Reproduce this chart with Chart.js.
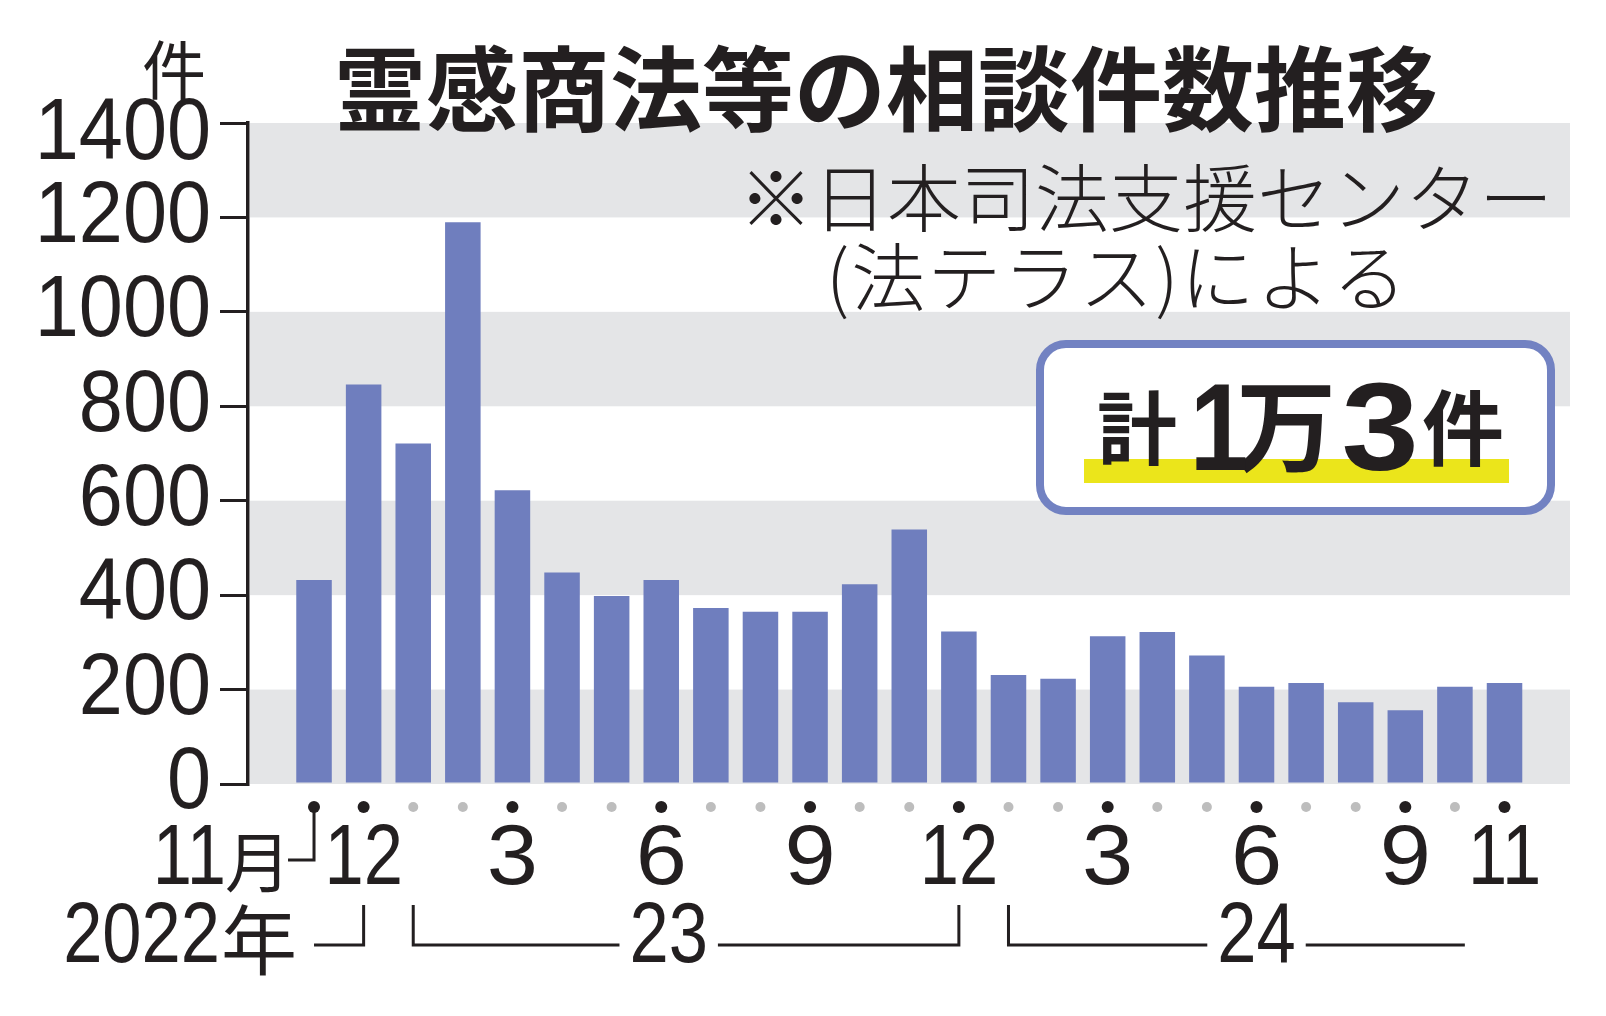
<!DOCTYPE html>
<html>
<head>
<meta charset="utf-8">
<title>霊感商法等の相談件数推移</title>
<script src="https://cdn.jsdelivr.net/npm/chart.js@4.4.0/dist/chart.umd.min.js"></script>
<style>
html, body { margin:0; padding:0; background:#fff; }
</style>
</head>
<body>
<canvas id="bar-chart" width="1606" height="1016"></canvas>
<script>
// 2022年11月 - 2024年11月, monthly counts (日本司法支援センター)
var months = [11,12,1,2,3,4,5,6,7,8,9,10,11,12,1,2,3,4,5,6,7,8,9,10,11];
var counts = [432,846,721,1190,622,448,398,432,373,365,365,423,539,323,231,223,313,322,272,206,214,173,156,206,214];
var shownMonths = [0,1,4,7,10,13,16,19,22,24];   // months that get a label and a black dot
var yTicks = [0,200,400,600,800,1000,1200,1400];
var firstYear = '2022';
var years = [
  {label:'23', from:2, to:13, at:7.15, closed:true},
  {label:'24', from:14, to:23.2, at:19, closed:false}
];

var ink = '#231f20';
var barColor = '#6f7ebe';
var latin = '"Liberation Sans", Arial, sans-serif';
var cjk = '"Noto Sans CJK JP", sans-serif';

// no narrow face installed, so squeeze Liberation Sans sideways
function narrowText(ctx, text, px, py, align, sx) {
  ctx.save();
  ctx.translate(px, py);
  ctx.scale(sx || 0.82, 1);
  ctx.textAlign = align;
  ctx.fillText(text, 0, 0);
  ctx.restore();
}

var bands = {
  id: 'bands',
  beforeDatasetsDraw: function(chart) {
    var ctx = chart.ctx, a = chart.chartArea, y = chart.scales.y;
    ctx.save();
    ctx.fillStyle = '#e4e5e7';
    for (var k = 0; k < yTicks.length - 1; k += 2) {
      var t = y.getPixelForValue(yTicks[k + 1]), b = y.getPixelForValue(yTicks[k]);
      ctx.fillRect(a.left + 2, t, a.right - a.left - 2, b - t);
    }
    ctx.restore();
  }
};

var extras = {
  id: 'extras',
  afterDraw: function(chart) {
    var ctx = chart.ctx, x = chart.scales.x, y = chart.scales.y;
    ctx.save();
    ctx.fillStyle = ink;
    ctx.strokeStyle = ink;
    ctx.lineWidth = 3;
    ctx.textBaseline = 'middle';

    // y tick labels
    ctx.font = '88px ' + latin;
    yTicks.forEach(function(v, k) {
      var py = y.getPixelForValue(v) + (k === yTicks.length - 1 ? 12 : 0);
      narrowText(ctx, String(v), chart.chartArea.left - 37, py, 'right', 0.9);
    });

    // month dots
    months.forEach(function(m, i) {
      var on = shownMonths.indexOf(i) >= 0;
      ctx.beginPath();
      ctx.arc(x.getPixelForValue(i), 807, on ? 6 : 5, 0, Math.PI * 2);
      ctx.fillStyle = on ? ink : '#bdbdbd';
      ctx.fill();
    });
    ctx.fillStyle = ink;

    // month labels
    ctx.font = '86px ' + latin;
    shownMonths.forEach(function(i) {
      if (i === 0) return;
      var s = String(months[i]);
      narrowText(ctx, s, x.getPixelForValue(i), 860, 'center', s.length > 1 ? 0.82 : 1.07);
    });

    // 11月 with its hook
    var x0 = x.getPixelForValue(0);
    narrowText(ctx, String(months[0]), x0 - 88, 860, 'right');
    ctx.font = '66px ' + cjk;
    ctx.textAlign = 'center';
    ctx.fillText('月', x0 - 56, 862);
    ctx.beginPath();
    ctx.moveTo(x0, 807); ctx.lineTo(x0, 860); ctx.lineTo(x0 - 26, 860);
    ctx.stroke();

    // year row
    var ly = 945, ty = 905;
    ctx.font = '86px ' + latin;
    narrowText(ctx, firstYear, x0 - 94, 938, 'right');
    ctx.font = '76px ' + cjk;
    ctx.textAlign = 'center';
    ctx.fillText('年', x0 - 55, 940);
    var x1 = x.getPixelForValue(1);
    ctx.beginPath();
    ctx.moveTo(x0, ly); ctx.lineTo(x1, ly); ctx.lineTo(x1, ty);
    ctx.stroke();

    ctx.font = '86px ' + latin;
    years.forEach(function(yr) {
      var xa = x.getPixelForValue(yr.from), xb = x.getPixelForValue(yr.to);
      var xc = x.getPixelForValue(yr.at), w = ctx.measureText(yr.label).width * 0.82;
      narrowText(ctx, yr.label, xc, 938, 'center');
      ctx.beginPath();
      ctx.moveTo(xa, ty); ctx.lineTo(xa, ly); ctx.lineTo(xc - w / 2 - 10, ly);
      ctx.moveTo(xc + w / 2 + 10, ly); ctx.lineTo(xb, ly);
      if (yr.closed) ctx.lineTo(xb, ty);
      ctx.stroke();
    });

    // unit
    ctx.textAlign = 'center';
    ctx.font = '64px ' + cjk;
    ctx.fillText('件', 174, 70);

    // title
    ctx.font = 'bold 92px ' + cjk;
    ctx.fillText('霊感商法等の相談件数推移', 886, 89);

    // source note
    ctx.font = '300 74px ' + cjk;
    ctx.textAlign = 'right';
    ctx.fillText('※日本司法支援センター', 1553, 198);
    ctx.textAlign = 'left';
    ctx.letterSpacing = '2px';
    ctx.fillText('(法テラス)による', 826, 277);
    ctx.letterSpacing = '0px';

    // total box
    ctx.beginPath();
    ctx.roundRect(1040, 344, 511, 167, 26);
    ctx.fillStyle = '#fff';
    ctx.fill();
    ctx.lineWidth = 8;
    ctx.strokeStyle = '#7282c2';
    ctx.stroke();
    ctx.fillStyle = '#ebe51b';
    ctx.fillRect(1084, 459, 425, 24);

    ctx.fillStyle = ink;
    ctx.textAlign = 'center';
    ctx.font = 'bold 80px ' + cjk;
    ctx.fillText('計', 1137, 428);
    ctx.font = 'bold 82px ' + cjk;
    ctx.fillText('件', 1463, 428);
    ctx.font = 'bold 100px ' + cjk;
    ctx.fillText('万', 1286, 426);
    ctx.textBaseline = 'alphabetic';
    ctx.font = 'bold 124px ' + latin;
    narrowText(ctx, '1', 1219, 470, 'center', 0.85);
    narrowText(ctx, '3', 1380, 470, 'center', 1.12);
    ctx.restore();
  }
};

new Chart(document.getElementById('bar-chart'), {
  type: 'bar',
  data: {
    datasets: [{
      label: '相談件数',
      data: counts.map(function(v, i) { return {x: i, y: v}; }),
      backgroundColor: barColor,
      barPercentage: 0.716,
      categoryPercentage: 1
    }]
  },
  options: {
    responsive: false,
    devicePixelRatio: 1,
    animation: false,
    layout: { padding: { left: 0, top: 123, right: 36, bottom: 232 } },
    plugins: { legend: { display: false }, tooltip: { enabled: false } },
    scales: {
      x: { type: 'linear', display: false, offset: false, min: -1.331, max: 25.32 },
      y: {
        min: 0, max: 1400,
        afterBuildTicks: function(s) { s.ticks = yTicks.map(function(v) { return {value: v}; }); },
        ticks: { display: false },
        grid: { drawOnChartArea: false, drawTicks: true, tickLength: 28, color: ink, lineWidth: 3 },
        border: { display: true, color: ink, width: 3.5 },
        afterFit: function(s) { s.width = 248; }
      }
    }
  },
  plugins: [bands, extras]
});
</script>
</body>
</html>
